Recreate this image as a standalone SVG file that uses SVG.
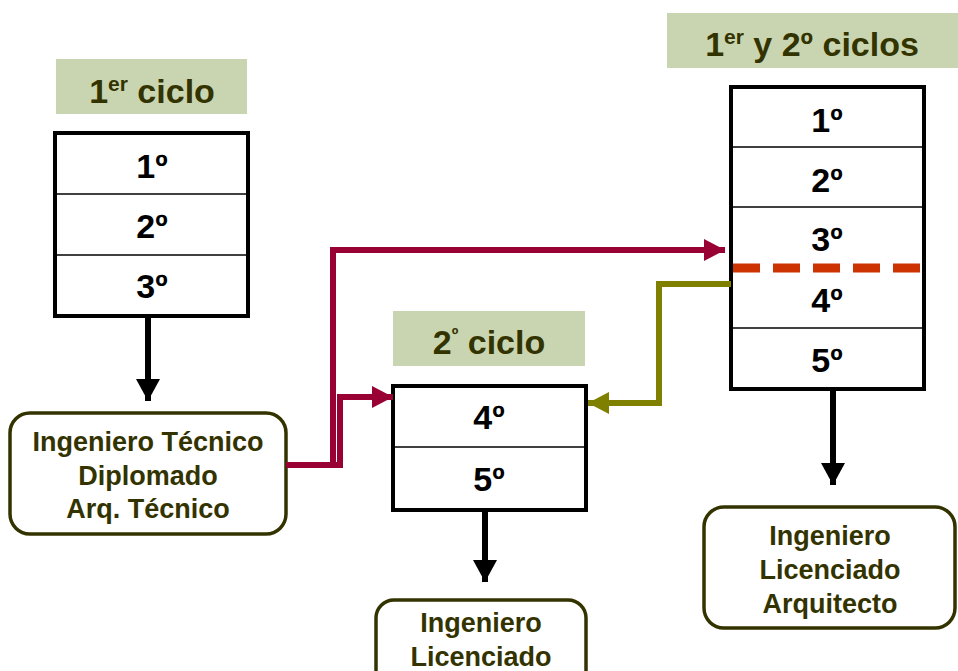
<svg xmlns="http://www.w3.org/2000/svg" width="958" height="671" viewBox="0 0 958 671">
<style>
.lbl{fill:#c9d5b1}
.lt{font-family:"Liberation Sans",Arial,sans-serif;font-weight:bold;font-size:34px;fill:#333300;text-anchor:middle}
.box{fill:#fff;stroke:#000;stroke-width:4}
.div{stroke:#000;stroke-width:1.5}
.num{font-family:"Liberation Sans",Arial,sans-serif;font-weight:bold;font-size:34px;fill:#000;text-anchor:middle}
.res{fill:#fff;stroke:#333300;stroke-width:3.5}
.rt{font-family:"Liberation Sans",Arial,sans-serif;font-weight:bold;font-size:27px;fill:#333300;text-anchor:middle}
.k{fill:none;stroke:#000;stroke-width:6}
.cr{fill:none;stroke:#990033;stroke-width:6}
.ol{fill:none;stroke:#808000;stroke-width:6}
</style>
<defs>
<marker id="ak" markerUnits="userSpaceOnUse" markerWidth="24" markerHeight="24" refX="22" refY="12" orient="auto"><path d="M0,0 L22,12 L0,24 Z" fill="#000"/></marker>
<marker id="ac" markerUnits="userSpaceOnUse" markerWidth="22" markerHeight="22" refX="21" refY="11" orient="auto"><path d="M0,0 L21,11 L0,22 Z" fill="#990033"/></marker>
<marker id="ao" markerUnits="userSpaceOnUse" markerWidth="22" markerHeight="22" refX="21" refY="11" orient="auto"><path d="M0,0 L21,11 L0,22 Z" fill="#808000"/></marker>
</defs>

<g id="label-1er-ciclo">
<rect class="lbl" x="56" y="59" width="191" height="55"/>
<text class="lt" x="152" y="103">1<tspan font-size="21" dy="-12">er</tspan><tspan dy="12"> ciclo</tspan></text>
</g>

<g id="box-1er-ciclo">
<rect class="box" x="55" y="133" width="193" height="183"/>
<line class="div" x1="55" y1="194" x2="248" y2="194"/>
<line class="div" x1="55" y1="255" x2="248" y2="255"/>
<text class="num" x="152" y="178">1º</text>
<text class="num" x="152" y="238">2º</text>
<text class="num" x="152" y="298">3º</text>
</g>

<g id="res-tecnico">
<rect class="res" x="10" y="413" width="276" height="121" rx="20"/>
<text class="rt" x="148" y="451">Ingeniero Técnico</text>
<text class="rt" x="148" y="485">Diplomado</text>
<text class="rt" x="148" y="518">Arq. Técnico</text>
</g>

<g id="label-2o-ciclo">
<rect class="lbl" x="393" y="311" width="192" height="55"/>
<text class="lt" x="489" y="354">2<tspan font-size="18" dy="-14">º</tspan><tspan dy="14"> ciclo</tspan></text>
</g>

<g id="box-2o-ciclo">
<rect class="box" x="393" y="386" width="193" height="124"/>
<line class="div" x1="393" y1="447" x2="586" y2="447"/>
<text class="num" x="489" y="429">4º</text>
<text class="num" x="489" y="491">5º</text>
</g>

<g id="res-licenciado">
<rect class="res" x="376" y="600" width="210" height="100" rx="18"/>
<text class="rt" x="481" y="632">Ingeniero</text>
<text class="rt" x="481" y="666">Licenciado</text>
</g>

<g id="label-1er-2o-ciclos">
<rect class="lbl" x="667" y="13" width="291" height="55"/>
<text class="lt" x="812" y="56">1<tspan font-size="21" dy="-12">er</tspan><tspan dy="12"> y 2º ciclos</tspan></text>
</g>

<g id="box-1er-2o-ciclos">
<rect class="box" x="731" y="87" width="193" height="302"/>
<line class="div" x1="731" y1="147" x2="924" y2="147"/>
<line class="div" x1="731" y1="207" x2="924" y2="207"/>
<line class="div" x1="731" y1="328" x2="924" y2="328"/>
<text class="num" x="827" y="132">1º</text>
<text class="num" x="827" y="192">2º</text>
<text class="num" x="827" y="251">3º</text>
<text class="num" x="827" y="312">4º</text>
<text class="num" x="827" y="372">5º</text>
<line x1="733" y1="268" x2="924" y2="268" stroke="#cc3300" stroke-width="9" stroke-dasharray="27,13"/>
</g>

<g id="res-arquitecto">
<rect class="res" x="704" y="507" width="251" height="121" rx="20"/>
<text class="rt" x="830" y="545">Ingeniero</text>
<text class="rt" x="830" y="579">Licenciado</text>
<text class="rt" x="830" y="613">Arquitecto</text>
</g>

<g id="connectors">
<line class="k" x1="148" y1="316" x2="148" y2="401" marker-end="url(#ak)"/>
<line class="k" x1="485" y1="510" x2="485" y2="582" marker-end="url(#ak)"/>
<line class="k" x1="833" y1="389" x2="833" y2="485" marker-end="url(#ak)"/>
<polyline class="cr" points="286,465 333,465 333,250 725,250" marker-end="url(#ac)"/>
<polyline class="cr" points="286,465 340,465 340,397 393,397" marker-end="url(#ac)"/>
<polyline class="ol" points="731,284 659,284 659,403 588,403" marker-end="url(#ao)"/>
</g>
</svg>
